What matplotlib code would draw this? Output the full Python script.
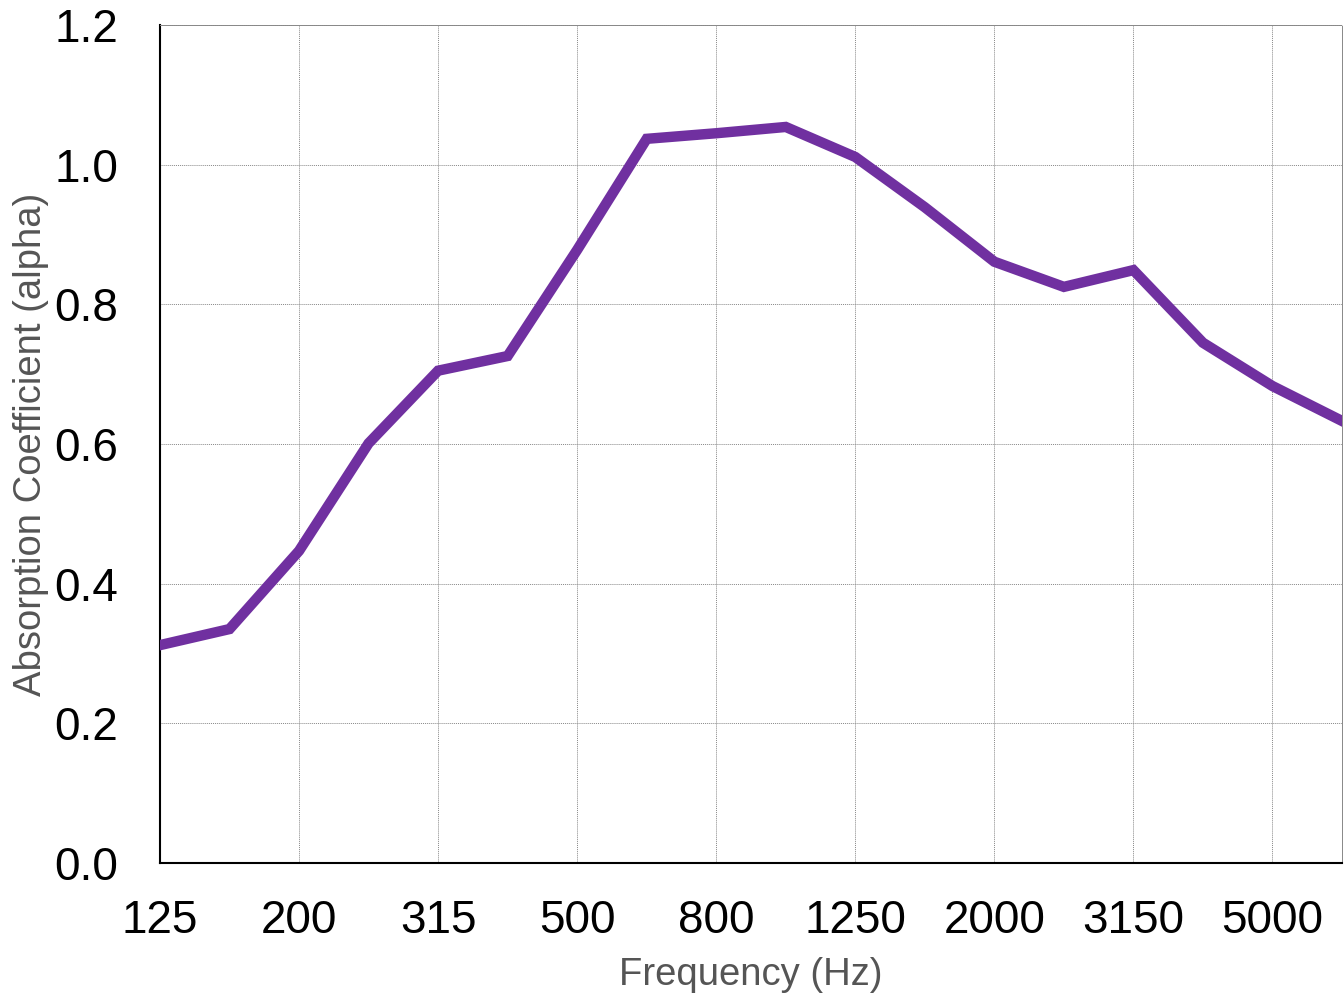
import matplotlib
matplotlib.use("Agg")
import matplotlib.pyplot as plt
import numpy as np

freqs = ["125", "160", "200", "250", "315", "400", "500", "630", "800", "1000",
         "1250", "1600", "2000", "2500", "3150", "4000", "5000", "6300"]
alpha = [0.312, 0.335, 0.447, 0.601, 0.705, 0.726, 0.878, 1.037, 1.045, 1.054,
         1.011, 0.939, 0.861, 0.825, 0.849, 0.745, 0.683, 0.633]
tick_labels = ["125", "200", "315", "500", "800", "1250", "2000", "3150", "5000"]
y_ticks = [0.0, 0.2, 0.4, 0.6, 0.8, 1.0, 1.2]

plt.rcParams['font.family'] = ['Liberation Sans', 'DejaVu Sans']

fig = plt.figure(figsize=(13.44, 9.98), dpi=100)
ax = fig.add_axes([160/1344, 1 - 863/998, (1342-160)/1344, (863-25)/998])

x = np.arange(len(freqs))
ax.plot(x, alpha, color="#7030A0", linewidth=7.5, solid_joinstyle="miter", zorder=3)

ax.set_xlim(0, len(freqs) - 1)
ax.set_ylim(0, 1.2)
tick_pos = [freqs.index(t) for t in tick_labels]
ax.set_xticks(tick_pos)
ax.set_xticklabels(tick_labels)
ax.set_yticks(y_ticks)
ax.set_yticklabels([f"{v:.1f}" for v in y_ticks])
ax.tick_params(axis="both", length=0, labelsize=33, colors="black")
ax.tick_params(axis="x", pad=26)
ax.tick_params(axis="y", pad=30)

ax.grid(True, color="#888888", linestyle=(0, (1, 1)), linewidth=0.7)
for s in ["top", "right"]:
    ax.spines[s].set_color("#888888")
    ax.spines[s].set_linestyle((0, (1, 1)))
    ax.spines[s].set_linewidth(0.7)
for s in ["left", "bottom"]:
    ax.spines[s].set_color("black")
    ax.spines[s].set_linewidth(1.5)

ax.set_xlabel("Frequency (Hz)", fontsize=27.5, color="#555555", labelpad=10)
ax.set_ylabel("Absorption Coefficient (alpha)", fontsize=27.5, color="#555555", labelpad=4)

fig.savefig("out.png", dpi=100)
